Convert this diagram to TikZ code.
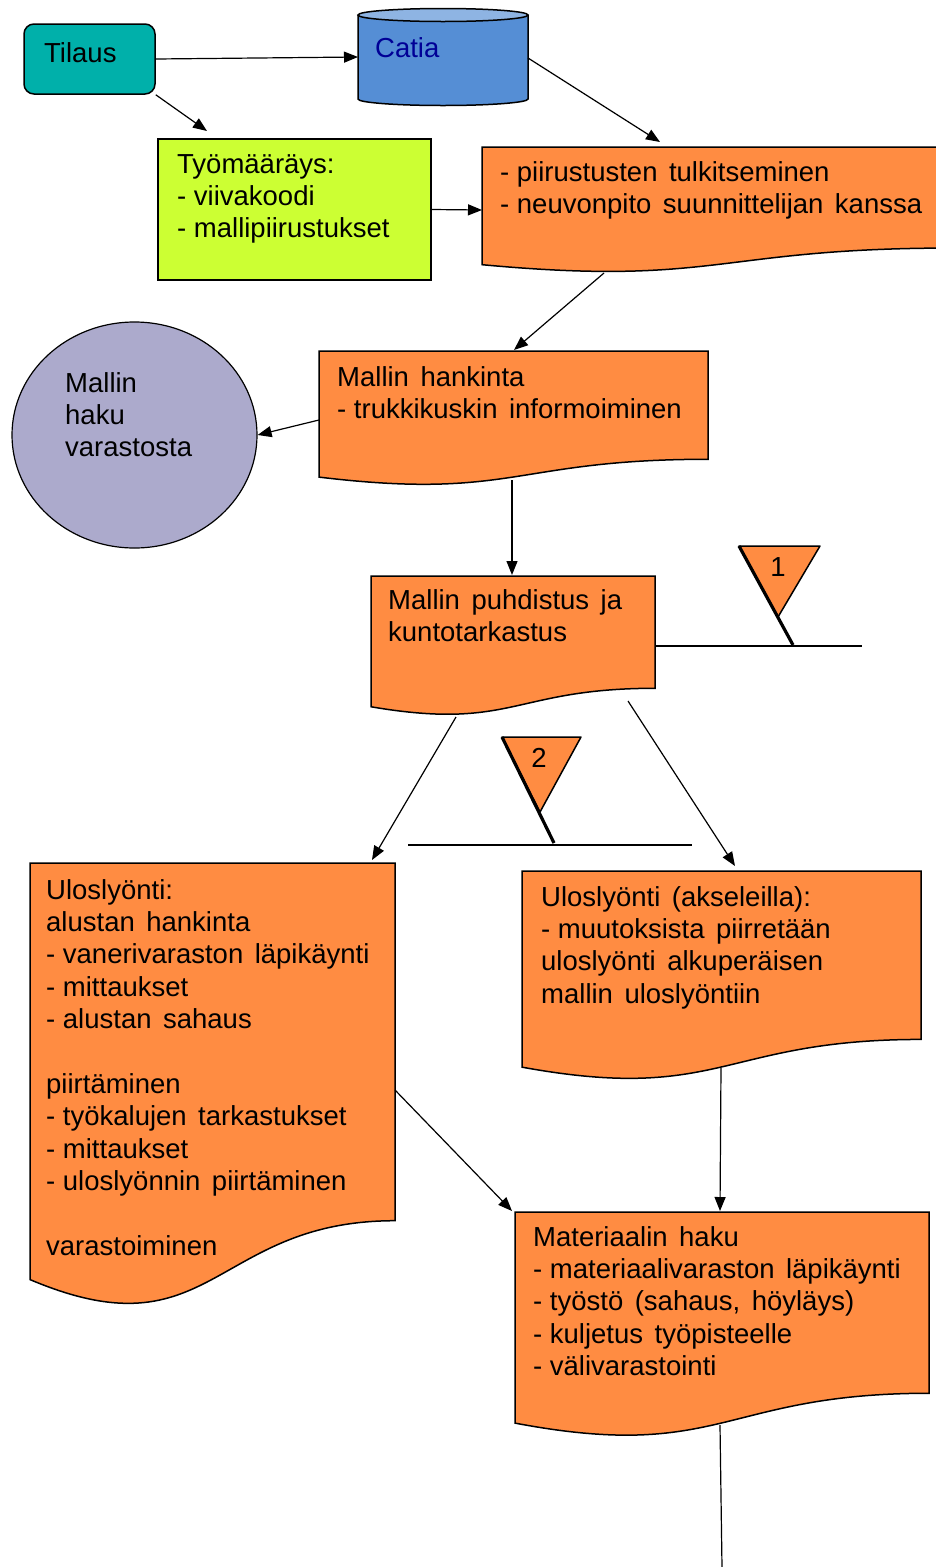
\documentclass[tikz,border=0pt]{standalone}
\usepackage{fontspec}
\setmainfont{Liberation Sans}
\usetikzlibrary{arrows.meta,shapes.geometric}

\definecolor{docorange}{RGB}{255,140,66}
\definecolor{orderteal}{RGB}{0,176,170}
\definecolor{catiabody}{RGB}{85,142,213}
\definecolor{catiatop}{RGB}{142,180,227}
\definecolor{catiatext}{RGB}{0,0,150}
\definecolor{worklime}{RGB}{204,255,51}
\definecolor{storelilac}{RGB}{172,170,204}

% text face of the chart: 27.5pt, slightly wide word spaces
\newcommand\chartfont{\fontsize{27.5}{32.4}\selectfont\spaceskip=11.5pt\relax}
% list bullet: hyphen followed by an ordinary space
\newcommand\bul{-\hskip7.6pt\relax}

% flowchart "document" symbol: top-left corner (#1,#2), width #3, height #4
\newcommand\docshape[4]{%
  \filldraw[docbox] (#1,#2) -- ({#1+#3},#2) -- ({#1+#3},{#2+0.802*#4})
    .. controls ({#1+0.5*#3},{#2+0.802*#4}) and ({#1+0.5*#3},{#2+1.1075*#4})
    .. (#1,{#2+0.934*#4}) -- cycle;}

% stacked text lines, baseline of the node = baseline of the first line
\newcommand\textlines[1]{\vtop{#1}}

\begin{document}
\begin{tikzpicture}[x=1pt,y=-1pt,
  font=\chartfont,
  docbox/.style={fill=docorange,draw=black,line width=1.5pt},
  conn/.style={line width=1.2pt,-{Triangle[length=14pt,width=11pt]}},
  plainline/.style={line width=1.2pt},
  flagpole/.style={line width=3.2pt},
  flagbox/.style={fill=docorange,draw=black,line width=1.5pt,line join=round},
  txt/.style={anchor=base west,inner sep=0pt}]
\useasboundingbox (0,0) rectangle (936,1567);

% --- order ---
\node[draw,fill=orderteal,rounded corners=10pt,line width=1.5pt,
      minimum width=131pt,minimum height=70pt,inner sep=0pt] (tilaus) at (89.5,59) {};
\node[txt] (tilaustxt) at (44,62) {Tilaus};

% --- Catia database cylinder ---
\filldraw[fill=catiabody,line width=1.5pt] (358,15) -- (358,99)
  arc[start angle=180,end angle=0,x radius=85,y radius=6.5] -- (528,15);
\filldraw[fill=catiatop,line width=1.5pt] (443,15) ellipse[x radius=85,y radius=6.5];
\node[txt,text=catiatext] (catiatxt) at (375,57) {Catia};
\coordinate (catiaW) at (358,57);
\coordinate (catiaE) at (528,58);

% --- work order ---
\node[draw,fill=worklime,line width=1.5pt,minimum width=273pt,minimum height=141pt,
      inner sep=0pt] (tyo) at (294.5,209.5) {};
\node[txt] (tyotxt) at (177,173) {\textlines{\hbox{Työmääräys:}\hbox{\bul viivakoodi}\hbox{\bul mallipiirustukset}}};
\coordinate (tyoN) at (207,131);

% --- interpretation of drawings ---
\docshape{482}{147}{470}{126}
\node[txt] (d1txt) at (500,181) {\textlines{\hbox{\bul piirustusten tulkitseminen}\hbox{\bul neuvonpito suunnittelijan kanssa}}};
\coordinate (d1W) at (482,210);
\coordinate (d1N) at (660,142);
\coordinate (d1S) at (604,273);

% --- pattern acquisition ---
\docshape{319}{351}{389}{135}
\node[txt] (d2txt) at (337,386) {\textlines{\hbox{Mallin hankinta}\hbox{\bul trukkikuskin informoiminen}}};
\coordinate (d2N) at (514,350);
\coordinate (d2W) at (319,420);
\coordinate (d2S) at (512,480);

% --- fetch from storage ---
\node[ellipse,draw,fill=storelilac,line width=1.2pt,minimum width=245pt,minimum height=226pt,
      inner sep=0pt] (haku) at (134.5,435) {};
\node[txt] (hakutxt) at (65,392) {\textlines{\hbox{Mallin}\hbox{haku}\hbox{varastosta}}};

% --- cleaning and inspection ---
\docshape{371}{576}{284}{140}
\node[txt] (d3txt) at (388,609) {\textlines{\hbox{Mallin puhdistus ja}\hbox{kuntotarkastus}}};
\coordinate (d3N) at (512,575);
\coordinate (d3SL) at (456,717);
\coordinate (d3SR) at (628,701);
\coordinate (d3E) at (655,646);

% --- inspection flag 1 ---
\coordinate (f1a) at (739,546);
\coordinate (f1b) at (820,546);
\coordinate (f1c) at (778,617);
\coordinate (f1foot) at (793,645);
\coordinate (f1end) at (862,646);
\filldraw[flagbox] (f1a) -- (f1b) -- (f1c) -- cycle;
\draw[flagpole] (f1a) -- (f1foot);
\draw[plainline] (d3E) -- (f1end);
\node[anchor=base,inner sep=0pt] (f1txt) at (778,576) {1};

% --- inspection flag 2 ---
\coordinate (f2a) at (502,737);
\coordinate (f2b) at (581,737);
\coordinate (f2c) at (540,812);
\coordinate (f2foot) at (554,843);
\coordinate (f2l) at (408,845);
\coordinate (f2r) at (692,845);
\filldraw[flagbox] (f2a) -- (f2b) -- (f2c) -- cycle;
\draw[flagpole] (f2a) -- (f2foot);
\draw[plainline] (f2l) -- (f2r);
\node[anchor=base,inner sep=0pt] (f2txt) at (539,767) {2};

% --- marking out, left branch ---
\docshape{30}{863}{365}{446}
\node[txt] (d4txt) at (46,899) {\textlines{%
  \hbox{Uloslyönti:}\hbox{alustan hankinta}\hbox{\bul vanerivaraston läpikäynti}%
  \hbox{\bul mittaukset}\hbox{\bul alustan sahaus}\hbox{}\hbox{piirtäminen}%
  \hbox{\bul työkalujen tarkastukset}\hbox{\bul mittaukset}\hbox{\bul uloslyönnin piirtäminen}%
  \hbox{}\hbox{varastoiminen}}};
\coordinate (d4N) at (372,860);
\coordinate (d4E) at (395,1090);

% --- marking out on axles, right branch ---
\docshape{522}{871}{399}{210}
\node[txt] (d5txt) at (541,906) {\textlines{\hbox{Uloslyönti (akseleilla):}%
  \hbox{\bul muutoksista piirretään}\hbox{uloslyönti alkuperäisen}\hbox{mallin uloslyöntiin}}};
\coordinate (d5N) at (735,866);
\coordinate (d5S) at (721,1068);

% --- material fetch ---
\docshape{515}{1212}{414}{226}
\node[txt] (d6txt) at (533,1246) {\textlines{\hbox{Materiaalin haku}%
  \hbox{\bul materiaalivaraston läpikäynti}\hbox{\bul työstö (sahaus, höyläys)}%
  \hbox{\bul kuljetus työpisteelle}\hbox{\bul välivarastointi}}};
\coordinate (d6N) at (720,1211);
\coordinate (d6NW) at (512,1211);
\coordinate (d6S) at (720,1425);
\coordinate (exitS) at (722,1567);

% --- connectors ---
\draw[conn] (tilaus.east) -- (catiaW);
\draw[conn] (tilaus.south east) -- (tyoN);
\draw[conn] (tyo.east) -- (d1W);
\draw[conn] (catiaE) -- (d1N);
\draw[conn] (d1S) -- (d2N);
\draw[conn] (d2W) -- (haku.east);
\draw[conn] (d2S) -- (d3N);
\draw[conn] (d3SL) -- (d4N);
\draw[conn] (d3SR) -- (d5N);
\draw[conn] (d5S) -- (d6N);
\draw[conn] (d4E) -- (d6NW);
\draw[plainline] (d6S) -- (exitS);
\end{tikzpicture}
\end{document}
